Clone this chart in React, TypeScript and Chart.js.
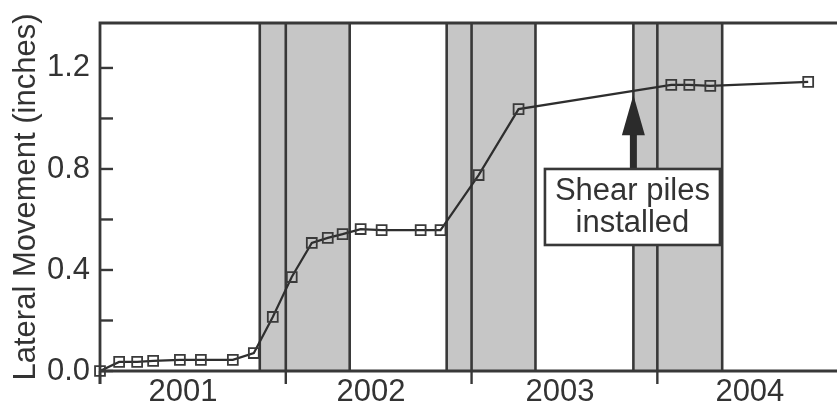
import React, { useEffect, useRef } from "react";
import { Chart, registerables } from "chart.js";

Chart.register(...registerables);

// ---- data ----
const dates = [
  2001.0, 2001.103, 2001.2, 2001.286, 2001.43, 2001.543, 2001.715, 2001.828,
  2001.93, 2002.032, 2002.14, 2002.226, 2002.306, 2002.403, 2002.516, 2002.726,
  2002.833, 2003.038, 2003.253, 2004.075, 2004.172, 2004.285, 2004.812,
];
const movement = [
  0.0, 0.036, 0.036, 0.04, 0.044, 0.044, 0.044, 0.071, 0.214, 0.372, 0.507,
  0.527, 0.542, 0.562, 0.558, 0.558, 0.558, 0.776, 1.037, 1.133, 1.133, 1.129,
  1.145,
];
// shaded periods (start, end) in decimal years
const bandStarts = [2001.86, 2002.866, 2003.871];
const bandEnds = [2002.344, 2003.344, 2004.349];
const yearBoundaries = [2001, 2002, 2003, 2004];
const yearLabels = ["2001", "2002", "2003", "2004"];
const yearLabelPositions = [2001.447, 2002.459, 2003.476, 2004.498];
const yMajorTicks = [0, 0.4, 0.8, 1.2];
const yAllTicks = [0, 0.2, 0.4, 0.6, 0.8, 1.0, 1.2];
const annotationLines = ["Shear piles", "installed"];
const arrowX = 2003.871;
const arrowTip = 1.093;
const arrowBase = 0.934;
const boxX = [2003.395, 2004.337];
const boxY = [0.499, 0.8];

const FONT = '"Liberation Sans", Arial, Helvetica, sans-serif';
const DARK = "#383838";
const TEXT = "#333333";
const BAND = "#c6c6c6";

const decorPlugin = {
  id: "decor",
  beforeDatasetsDraw(chart: any) {
    const { ctx, chartArea } = chart;
    const xs = chart.scales.x;
    const { top, bottom } = chartArea;
    ctx.save();
    ctx.fillStyle = BAND;
    for (let i = 0; i < bandStarts.length; i++) {
      const a = xs.getPixelForValue(bandStarts[i]);
      const b = xs.getPixelForValue(bandEnds[i]);
      ctx.fillRect(a, top, b - a, bottom - top);
    }
    ctx.strokeStyle = DARK;
    ctx.lineWidth = 2.6;
    const verticals = [...bandStarts, ...bandEnds, ...yearBoundaries.slice(1)];
    for (const v of verticals) {
      const p = xs.getPixelForValue(v);
      ctx.beginPath();
      ctx.moveTo(p, top);
      ctx.lineTo(p, bottom);
      ctx.stroke();
    }
    ctx.restore();
  },
  afterDatasetsDraw(chart: any) {
    const { ctx, chartArea } = chart;
    const xs = chart.scales.x;
    const ys = chart.scales.y;
    const { top, bottom, left, right } = chartArea;
    ctx.save();
    ctx.strokeStyle = DARK;
    ctx.lineWidth = 2.8;
    ctx.beginPath();
    ctx.moveTo(left, bottom + 13);
    ctx.lineTo(left, top);
    ctx.lineTo(right + 5, top);
    ctx.moveTo(left, bottom);
    ctx.lineTo(right + 5, bottom);
    ctx.stroke();
    ctx.lineWidth = 2.4;
    for (const v of yAllTicks) {
      const p = ys.getPixelForValue(v);
      ctx.beginPath();
      ctx.moveTo(left, p);
      ctx.lineTo(left + 13, p);
      ctx.stroke();
    }
    for (const v of yearBoundaries) {
      const p = xs.getPixelForValue(v);
      ctx.beginPath();
      ctx.moveTo(p, bottom);
      ctx.lineTo(p, bottom + 13);
      ctx.stroke();
    }
    // arrow
    const ax = xs.getPixelForValue(arrowX);
    const tipY = ys.getPixelForValue(arrowTip);
    const baseY = ys.getPixelForValue(arrowBase);
    const bx0 = xs.getPixelForValue(boxX[0]);
    const bx1 = xs.getPixelForValue(boxX[1]);
    const by0 = ys.getPixelForValue(boxY[1]);
    const by1 = ys.getPixelForValue(boxY[0]);
    ctx.fillStyle = "#2b2b2b";
    ctx.fillRect(ax - 3.5, baseY - 1, 7, by0 - baseY + 1);
    ctx.beginPath();
    ctx.moveTo(ax, tipY);
    ctx.lineTo(ax - 11.5, baseY);
    ctx.lineTo(ax + 11.5, baseY);
    ctx.closePath();
    ctx.fill();
    // box
    ctx.fillStyle = "#ffffff";
    ctx.fillRect(bx0, by0, bx1 - bx0, by1 - by0);
    ctx.lineWidth = 2.6;
    ctx.strokeStyle = DARK;
    ctx.strokeRect(bx0, by0, bx1 - bx0, by1 - by0);
    ctx.fillStyle = TEXT;
    ctx.font = `31px ${FONT}`;
    ctx.textAlign = "center";
    ctx.textBaseline = "middle";
    const cx = (bx0 + bx1) / 2;
    const cy = (by0 + by1) / 2;
    ctx.fillText(annotationLines[0], cx, cy - 16);
    ctx.fillText(annotationLines[1], cx, cy + 16);
    ctx.restore();
  },
};

export default function App() {
  const ref = useRef<HTMLCanvasElement | null>(null);
  useEffect(() => {
    document.body.style.margin = "0";
    const canvas = ref.current;
    if (!canvas) return;
    const chart = new Chart(canvas, {
      type: "line",
      data: {
        datasets: [
          {
            data: dates.map((d, i) => ({ x: d, y: movement[i] })),
            borderColor: "#2e2e2e",
            borderWidth: 2.2,
            pointStyle: "rect",
            pointRadius: 7,
            pointBorderWidth: 1.8,
            pointBorderColor: "#3a3a3a",
            pointBackgroundColor: "rgba(0,0,0,0)",
            tension: 0,
            clip: false,
          } as any,
        ],
      },
      options: {
        animation: false,
        responsive: false,
        maintainAspectRatio: false,
        layout: {
          autoPadding: false,
          padding: { top: 23, left: 0, right: 0, bottom: 0 },
        },
        plugins: {
          legend: { display: false },
          tooltip: { enabled: false },
        },
        scales: {
          x: {
            type: "linear",
            min: 2001,
            max: 2004.967,
            grid: { display: false, drawTicks: false },
            border: { display: false },
            afterBuildTicks: (scale: any) => {
              scale.ticks = yearLabelPositions.map((v) => ({ value: v }));
            },
            afterFit: (scale: any) => {
              scale.height = 38;
              scale.paddingLeft = 0;
              scale.paddingRight = 0;
            },
            ticks: {
              autoSkip: false,
              maxRotation: 0,
              padding: 3,
              color: TEXT,
              font: { family: FONT, size: 31 },
              callback: (v: any) => {
                const idx = yearLabelPositions.indexOf(Number(v));
                return idx >= 0 ? yearLabels[idx] : "";
              },
            },
          },
          y: {
            min: 0,
            max: 1.378,
            grid: { display: false, drawTicks: false },
            border: { display: false },
            afterBuildTicks: (scale: any) => {
              scale.ticks = yMajorTicks.map((v) => ({ value: v }));
            },
            afterFit: (scale: any) => {
              scale.width = 100;
              scale.paddingTop = 0;
              scale.paddingBottom = 0;
            },
            ticks: {
              padding: 10,
              color: TEXT,
              font: { family: FONT, size: 31 },
              callback: (v: any) => Number(v).toFixed(1),
            },
            title: {
              display: true,
              text: "Lateral Movement (inches)",
              color: TEXT,
              font: { family: FONT, size: 31 },
              padding: { top: 8, bottom: 0 },
            },
          },
        },
      },
      plugins: [decorPlugin],
    });
    return () => chart.destroy();
  }, []);
  return (
    <canvas
      ref={ref}
      width={837}
      height={409}
      style={{ display: "block", width: 837, height: 409 }}
    />
  );
}
